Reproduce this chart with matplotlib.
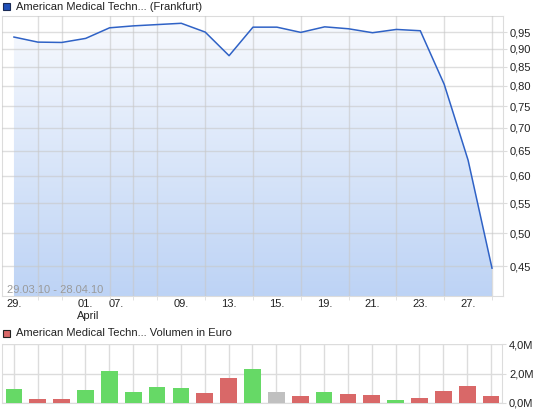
import numpy as np
import matplotlib
matplotlib.use("Agg")
import matplotlib.pyplot as plt
from matplotlib.colors import LinearSegmentedColormap
from matplotlib.patches import Rectangle

# trading days 29.03.10 - 28.04.10 (Frankfurt)
days = ["29.03", "30.03", "31.03", "01.04", "06.04", "07.04", "08.04", "09.04",
        "12.04", "13.04", "14.04", "15.04", "16.04", "19.04", "20.04", "21.04",
        "22.04", "23.04", "26.04", "27.04", "28.04"]
price = [0.935, 0.920, 0.919, 0.931, 0.963, 0.969, 0.973, 0.977, 0.950, 0.881,
         0.965, 0.965, 0.949, 0.966, 0.960, 0.948, 0.958, 0.954, 0.804, 0.631, 0.447]
volume_m = [0.97, 0.29, 0.29, 0.90, 2.19, 0.77, 1.10, 1.04, 0.70, 1.72, 2.33,
            0.77, 0.50, 0.77, 0.63, 0.56, 0.23, 0.36, 0.84, 1.17, 0.50]
direction = ["up", "down", "down", "up", "up", "up", "up", "up", "down", "down", "up",
             "flat", "down", "up", "down", "down", "up", "down", "down", "down", "down"]
xtick_pos = [0, 3, 4.3, 7, 9, 11, 13, 15, 17, 19]
xtick_labels = ["29.", "01.", "07.", "09.", "13.", "15.", "19.", "21.", "23.", "27."]
yticks = [0.45, 0.50, 0.55, 0.60, 0.65, 0.70, 0.75, 0.80, 0.85, 0.90, 0.95]
vticks = [0, 2, 4]

W, H = 545, 413
plt.rcParams['font.family'] = ['Liberation Sans', 'DejaVu Sans']
fig = plt.figure(figsize=(W / 100, H / 100), dpi=100)

def px_axes(l, t, r, b):
    return fig.add_axes([l / W, 1 - b / H, (r - l) / W, (b - t) / H])

grid_c = '#dcdcdc'
txt_c = '#222222'
x = np.arange(len(price))

# --- price panel
ax = px_axes(2, 16, 503, 296)
ax.set_yscale('log')
ax.set_xlim(-0.5, len(price) - 0.54)
ax.set_ylim(0.409, 1.0)
ymin = ax.get_ylim()[0]

poly = ax.fill_between(x, price, ymin, color='none', lw=0)
cmap = LinearSegmentedColormap.from_list('fill', ['#bdd3f5', '#f8fafe'])
grad = np.linspace(0, 1, 256).reshape(-1, 1)
im = ax.imshow(grad, cmap=cmap, aspect='auto', extent=(0, 1, 0, 1),
               transform=ax.transAxes, origin='lower', zorder=1)
im.set_clip_path(poly.get_paths()[0], ax.transData)
ax.plot(x, price, color='#2f62c6', lw=1.1, zorder=3)

ax.yaxis.tick_right()
ax.set_yticks(yticks)
ax.set_yticklabels([f"{v:.2f}".replace('.', ',') for v in yticks])
ax.yaxis.set_minor_locator(matplotlib.ticker.NullLocator())
ax.tick_params(axis='y', which='major', length=3, color=grid_c, pad=2,
               labelsize=8, labelcolor=txt_c)
ax.set_xticks(x, minor=True)
ax.set_xticks(xtick_pos)
ax.set_xticklabels(xtick_labels)
ax.tick_params(axis='x', which='minor', length=3, color=grid_c)
ax.tick_params(axis='x', which='major', length=0, pad=2, labelsize=8, labelcolor=txt_c)
ax.grid(True, axis='y', which='major', color='#c8c8c8', alpha=0.6, lw=1, zorder=2)
ax.grid(True, axis='x', which='minor', color='#c8c8c8', alpha=0.6, lw=1, zorder=2)
ax.set_axisbelow(False)
for s in ax.spines.values():
    s.set_color(grid_c)
    s.set_zorder(2)
ax.text(0.01, 0.004, "29.03.10 - 28.04.10", transform=ax.transAxes,
        fontsize=8, color='#9a9a9a', ha='left', va='bottom', zorder=4)
fig.text(88 / W, 1 - 316 / H, "April", fontsize=8, color=txt_c, ha='center', va='center')

# --- volume panel
vx = px_axes(2, 344, 502, 403)
colors = {"up": '#66d966', "down": '#d96868', "flat": '#c0c0c0'}
vx.bar(x, volume_m, width=0.7, color=[colors[d] for d in direction], zorder=3)
vx.set_xlim(ax.get_xlim())
vx.set_ylim(0, 4)
vx.yaxis.tick_right()
vx.set_yticks(vticks)
vx.set_yticklabels([f"{v:.1f}M".replace('.', ',') for v in vticks])
vx.tick_params(axis='y', length=3, color=grid_c, pad=2, labelsize=8, labelcolor=txt_c)
vx.set_xticks(x)
vx.tick_params(axis='x', length=0, labelbottom=False)
vx.grid(True, color=grid_c, lw=1, zorder=0)
vx.set_axisbelow(True)
for s in vx.spines.values():
    s.set_color(grid_c)
vx.spines['top'].set_visible(False)

# --- legend headers
fig.patches.append(Rectangle((3 / W, 1 - 10 / H), 7 / W, 7 / H, transform=fig.transFigure,
                             facecolor='#1f4fb8', edgecolor='#1a2a55', lw=0.8))
fig.text(16 / W, 1 - 6.5 / H, "American Medical Techn... (Frankfurt)", fontsize=8,
         color=txt_c, ha='left', va='center')
fig.patches.append(Rectangle((3 / W, 1 - 337 / H), 7 / W, 7 / H, transform=fig.transFigure,
                             facecolor='#d96868', edgecolor='#222222', lw=0.8))
fig.text(16 / W, 1 - 333.5 / H, "American Medical Techn... Volumen in Euro", fontsize=8,
         color=txt_c, ha='left', va='center')

fig.savefig('out.png', dpi=100)
